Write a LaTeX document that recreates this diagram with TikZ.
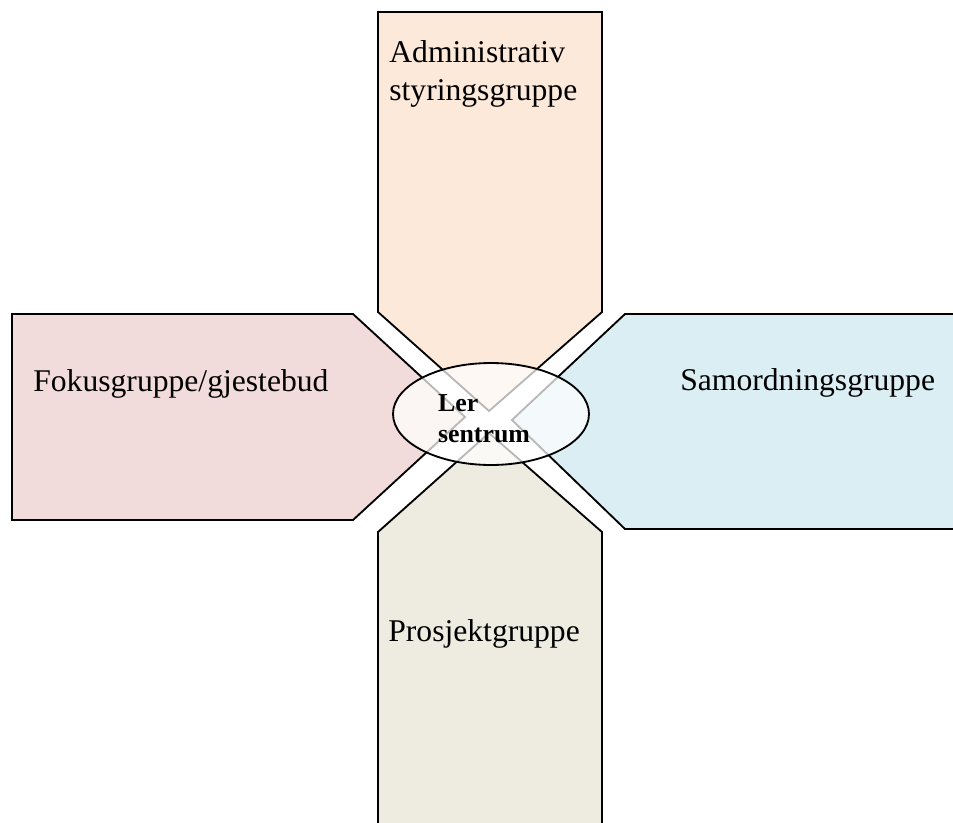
\documentclass[tikz,border=0pt]{standalone}
\usepackage{fontspec}
\setmainfont{Liberation Serif}
\usetikzlibrary{positioning,shapes.geometric}
\definecolor{peach}{HTML}{FDE9D9}
\definecolor{rose}{HTML}{F2DCDB}
\definecolor{paleblue}{HTML}{DAEEF3}
\definecolor{sand}{HTML}{EEECE1}

\begin{document}
\begin{tikzpicture}[
    x=0.02cm,y=-0.02cm,
    arm/.style={draw=black,line width=1.05pt,line join=miter},
    armtext/.style={font=\fontsize{18}{21.5}\selectfont,align=left,inner sep=0pt,anchor=base west},
    hub/.style={ellipse,draw=black,line width=1.05pt,fill=white,fill opacity=0.72,
      minimum width=3.92cm,minimum height=2.04cm,inner sep=0pt},
    hubtext/.style={font=\bfseries\fontsize{14.7}{17.6}\selectfont,align=left,inner sep=0pt}
  ]
    \useasboundingbox (0,0) rectangle (953,822);
    \clip (0,0) rectangle (953,822);
    % four arms pointing at the centre
    \path[arm,fill=peach] (378,12) -- (602,12) -- (602,312) -- (489,411) -- (378,312) -- cycle;
    \path[arm,fill=rose] (12,314) -- (353,314) -- (465,417) -- (353,520) -- (12,520) -- cycle;
    \path[arm,fill=paleblue] (965,314) -- (625,314) -- (512,420) -- (625,529) -- (965,529) -- cycle;
    \path[arm,fill=sand] (378,835) -- (378,532) -- (489,433) -- (602,532) -- (602,835) -- cycle;

    \node[armtext] (admin) at (389,100) {Administrativ\\styringsgruppe};
    \node[armtext] (fokus) at (33,391) {Fokusgruppe/gjestebud};
    \node[armtext] (samord) at (680,390) {Samordningsgruppe};
    \node[armtext] (prosjekt) at (388,641) {Prosjektgruppe};

    \node[hub] (ler) at (491,414) {};
    \node[hubtext] (lertext) at (484,419) {Ler\\sentrum};
  \end{tikzpicture}
\end{document}
